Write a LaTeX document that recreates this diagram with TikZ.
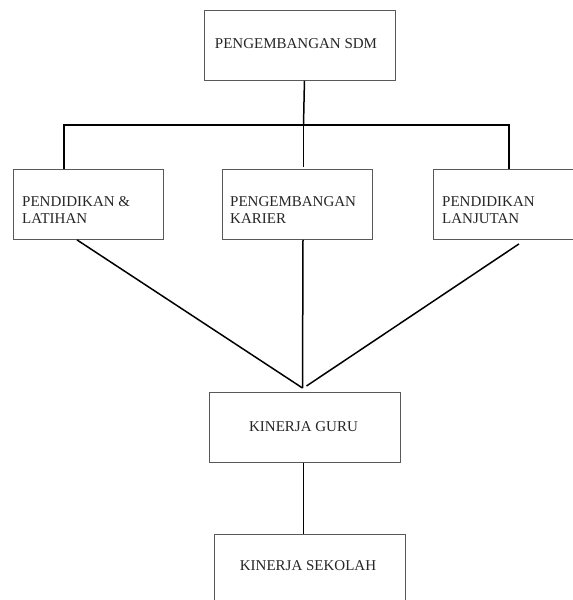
\documentclass[tikz,border=0pt]{standalone}
\usepackage{fontspec}
\setmainfont{Liberation Serif}
\begin{document}
\begin{tikzpicture}[x=1pt,y=-1pt,
  box/.style={draw=black!65, line width=0.9pt, inner sep=0pt, anchor=north west},
  lbl/.style={font=\fontsize{15}{17}\selectfont, inner sep=0pt, text=black!85},
  conn/.style={line width=1.5pt, black}]
\useasboundingbox (0,0) rectangle (573,600);
\clip (0,0) rectangle (573,600);
\fill[white] (0,0) rectangle (573,600);
% boxes
\node[box, minimum width=191pt, minimum height=70pt] (sdm) at (204,10) {};
\node[box, minimum width=150pt, minimum height=70pt] (lat) at (13,169) {};
\node[box, minimum width=150pt, minimum height=70pt] (kar) at (222,169) {};
\node[box, minimum width=160pt, minimum height=70pt] (lan) at (433,169) {};
\node[box, minimum width=191pt, minimum height=70pt] (guru) at (209,392) {};
\node[box, minimum width=191pt, minimum height=90pt] (sek) at (214,534) {};
% labels
\node[lbl] (tsdm) at (296,44) {PENGEMBANGAN SDM};
\node[lbl, anchor=base west] (tlat1) at (22,206) {PENDIDIKAN \&};
\node[lbl, anchor=base west] (tlat2) at (22,223) {LATIHAN};
\node[lbl, anchor=base west] (tkar1) at (230,206) {PENGEMBANGAN};
\node[lbl, anchor=base west] (tkar2) at (230,223) {KARIER};
\node[lbl, anchor=base west] (tlan1) at (442,206) {PENDIDIKAN};
\node[lbl, anchor=base west] (tlan2) at (442,223) {LANJUTAN};
\node[lbl] (tguru) at (303.5,427) {KINERJA GURU};
\node[lbl] (tsek) at (308,566) {KINERJA SEKOLAH};
% junctions
\coordinate (bl) at (64,125);
\coordinate (bm) at (303.5,125);
\coordinate (br) at (509,125);
\coordinate (apex) at (302.5,388);
% connectors
\draw[conn] ([xshift=-1pt]bl) -- ([xshift=1pt]br);
\draw[conn] ([xshift=4.5pt]sdm.south) -- (bm);
\draw[conn] (bl) -- (bl |- lat.north);
\draw[conn] (bm) -- ([yshift=2pt]bm |- kar.north);
\draw[conn] (br) -- (br |- lan.north);
\draw[conn] ([xshift=64pt]lat.south west) -- (apex);
\draw[conn] ([xshift=81pt]kar.south west) -- (apex);
\draw[conn] ([xshift=86pt,yshift=-4pt]lan.south west) -- ([xshift=4pt,yshift=2pt]apex);
\draw[conn] ([xshift=-1.5pt]guru.south) -- ([xshift=-1.5pt]guru.south |- sek.north);
\end{tikzpicture}
\end{document}
